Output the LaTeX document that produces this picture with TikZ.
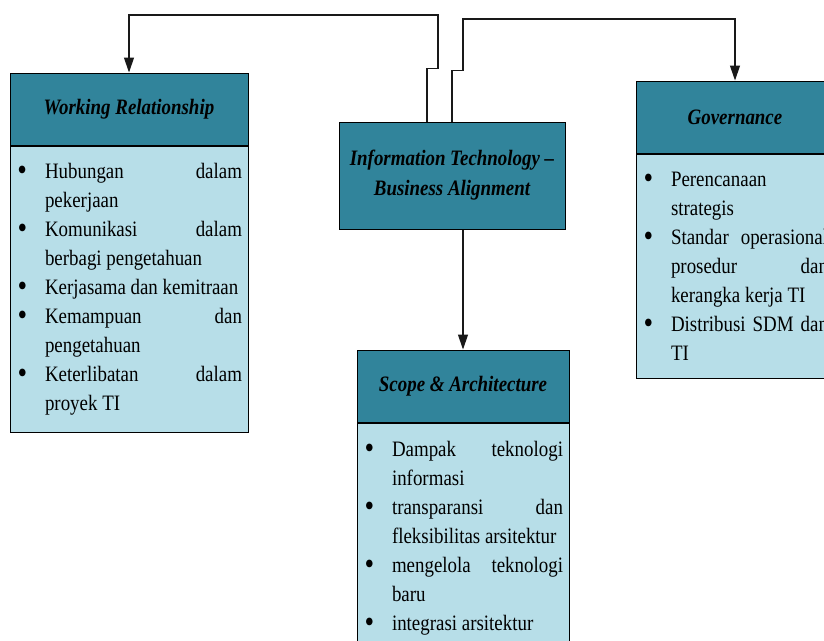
\documentclass[tikz,border=0pt]{standalone}
\usepackage{fontspec}
\setmainfont{Liberation Serif}[FakeStretch=0.86]
\usetikzlibrary{arrows.meta}
\definecolor{headteal}{HTML}{31849B}
\definecolor{bodyblue}{HTML}{B7DEE8}
% one bulleted entry with a hanging indent
\newcommand\bitem[1]{\noindent\hangindent=29pt\hangafter=1\makebox[29pt][l]{\hspace{1.5pt}\raisebox{-0.12em}{\scalebox{1.45}{\textbullet}}}#1\par}
\tolerance=10000 \hbadness=10000 \hyphenpenalty=10000 \exhyphenpenalty=10000

\begin{document}
\begin{tikzpicture}[x=1pt,y=-1pt,
  headbox/.style={draw=black, line width=1pt, fill=headteal, inner sep=0pt,
    font=\fontsize{22}{30}\selectfont\bfseries\itshape, align=center, minimum height=72pt},
  listbox/.style={draw=black, line width=1pt, fill=bodyblue, inner xsep=6pt, inner ysep=0pt,
    align=justify, font=\fontsize{22}{29}\selectfont, anchor=north},
  conn/.style={draw=black!90, line width=1.2pt, line join=miter,
    -{Triangle[length=15pt,width=10pt]}}
]
\useasboundingbox (0,0) rectangle (824,640);
\clip (0,0) rectangle (824,640);

% central box
\node[headbox, minimum width=226pt, minimum height=107pt] (it) at (452,175.5)
  {Information Technology –\\Business Alignment};

% Working Relationship
\node[headbox, minimum width=238pt] (wr) at (129,109) {Working Relationship};
\node[listbox, text width=226pt, minimum height=286pt] (wrlist) at (wr.south) {%
  \bitem{Hubungan dalam\linebreak pekerjaan}
  \bitem{Komunikasi dalam\linebreak berbagi pengetahuan}
  \bitem{Kerjasama dan kemitraan}
  \bitem{Kemampuan dan\linebreak pengetahuan}
  \bitem{Keterlibatan dalam\linebreak proyek TI}};

% Governance
\node[headbox, minimum width=198pt] (gov) at (735,117) {Governance};
\node[listbox, text width=186pt, minimum height=224pt] (govlist) at (gov.south) {%
  \bitem{Perencanaan\newline strategis}
  \bitem{Standar operasional\linebreak prosedur dan\linebreak kerangka kerja TI}
  \bitem{Distribusi SDM dan\linebreak TI}};

% Scope & Architecture
\node[headbox, minimum width=212pt] (scope) at (463,386) {Scope \& Architecture};
\node[listbox, text width=200pt, minimum height=230pt] (scopelist) at (scope.south) {%
  \bitem{Dampak teknologi\linebreak informasi}
  \bitem{transparansi dan\linebreak fleksibilitas arsitektur}
  \bitem{mengelola teknologi\linebreak baru}
  \bitem{integrasi arsitektur}};

% connectors
\coordinate (topL) at (129,15);
\coordinate (topR) at (735,19);
\draw[conn] ([xshift=-25pt]it.north) |- ++(11,-53) |- (topL) -- (wr.north);
\draw[conn] (it.north) |- ++(11,-51) |- (topR) -- (gov.north);
\draw[conn] (it.south -| scope.north) -- (scope.north);
\end{tikzpicture}
\end{document}
